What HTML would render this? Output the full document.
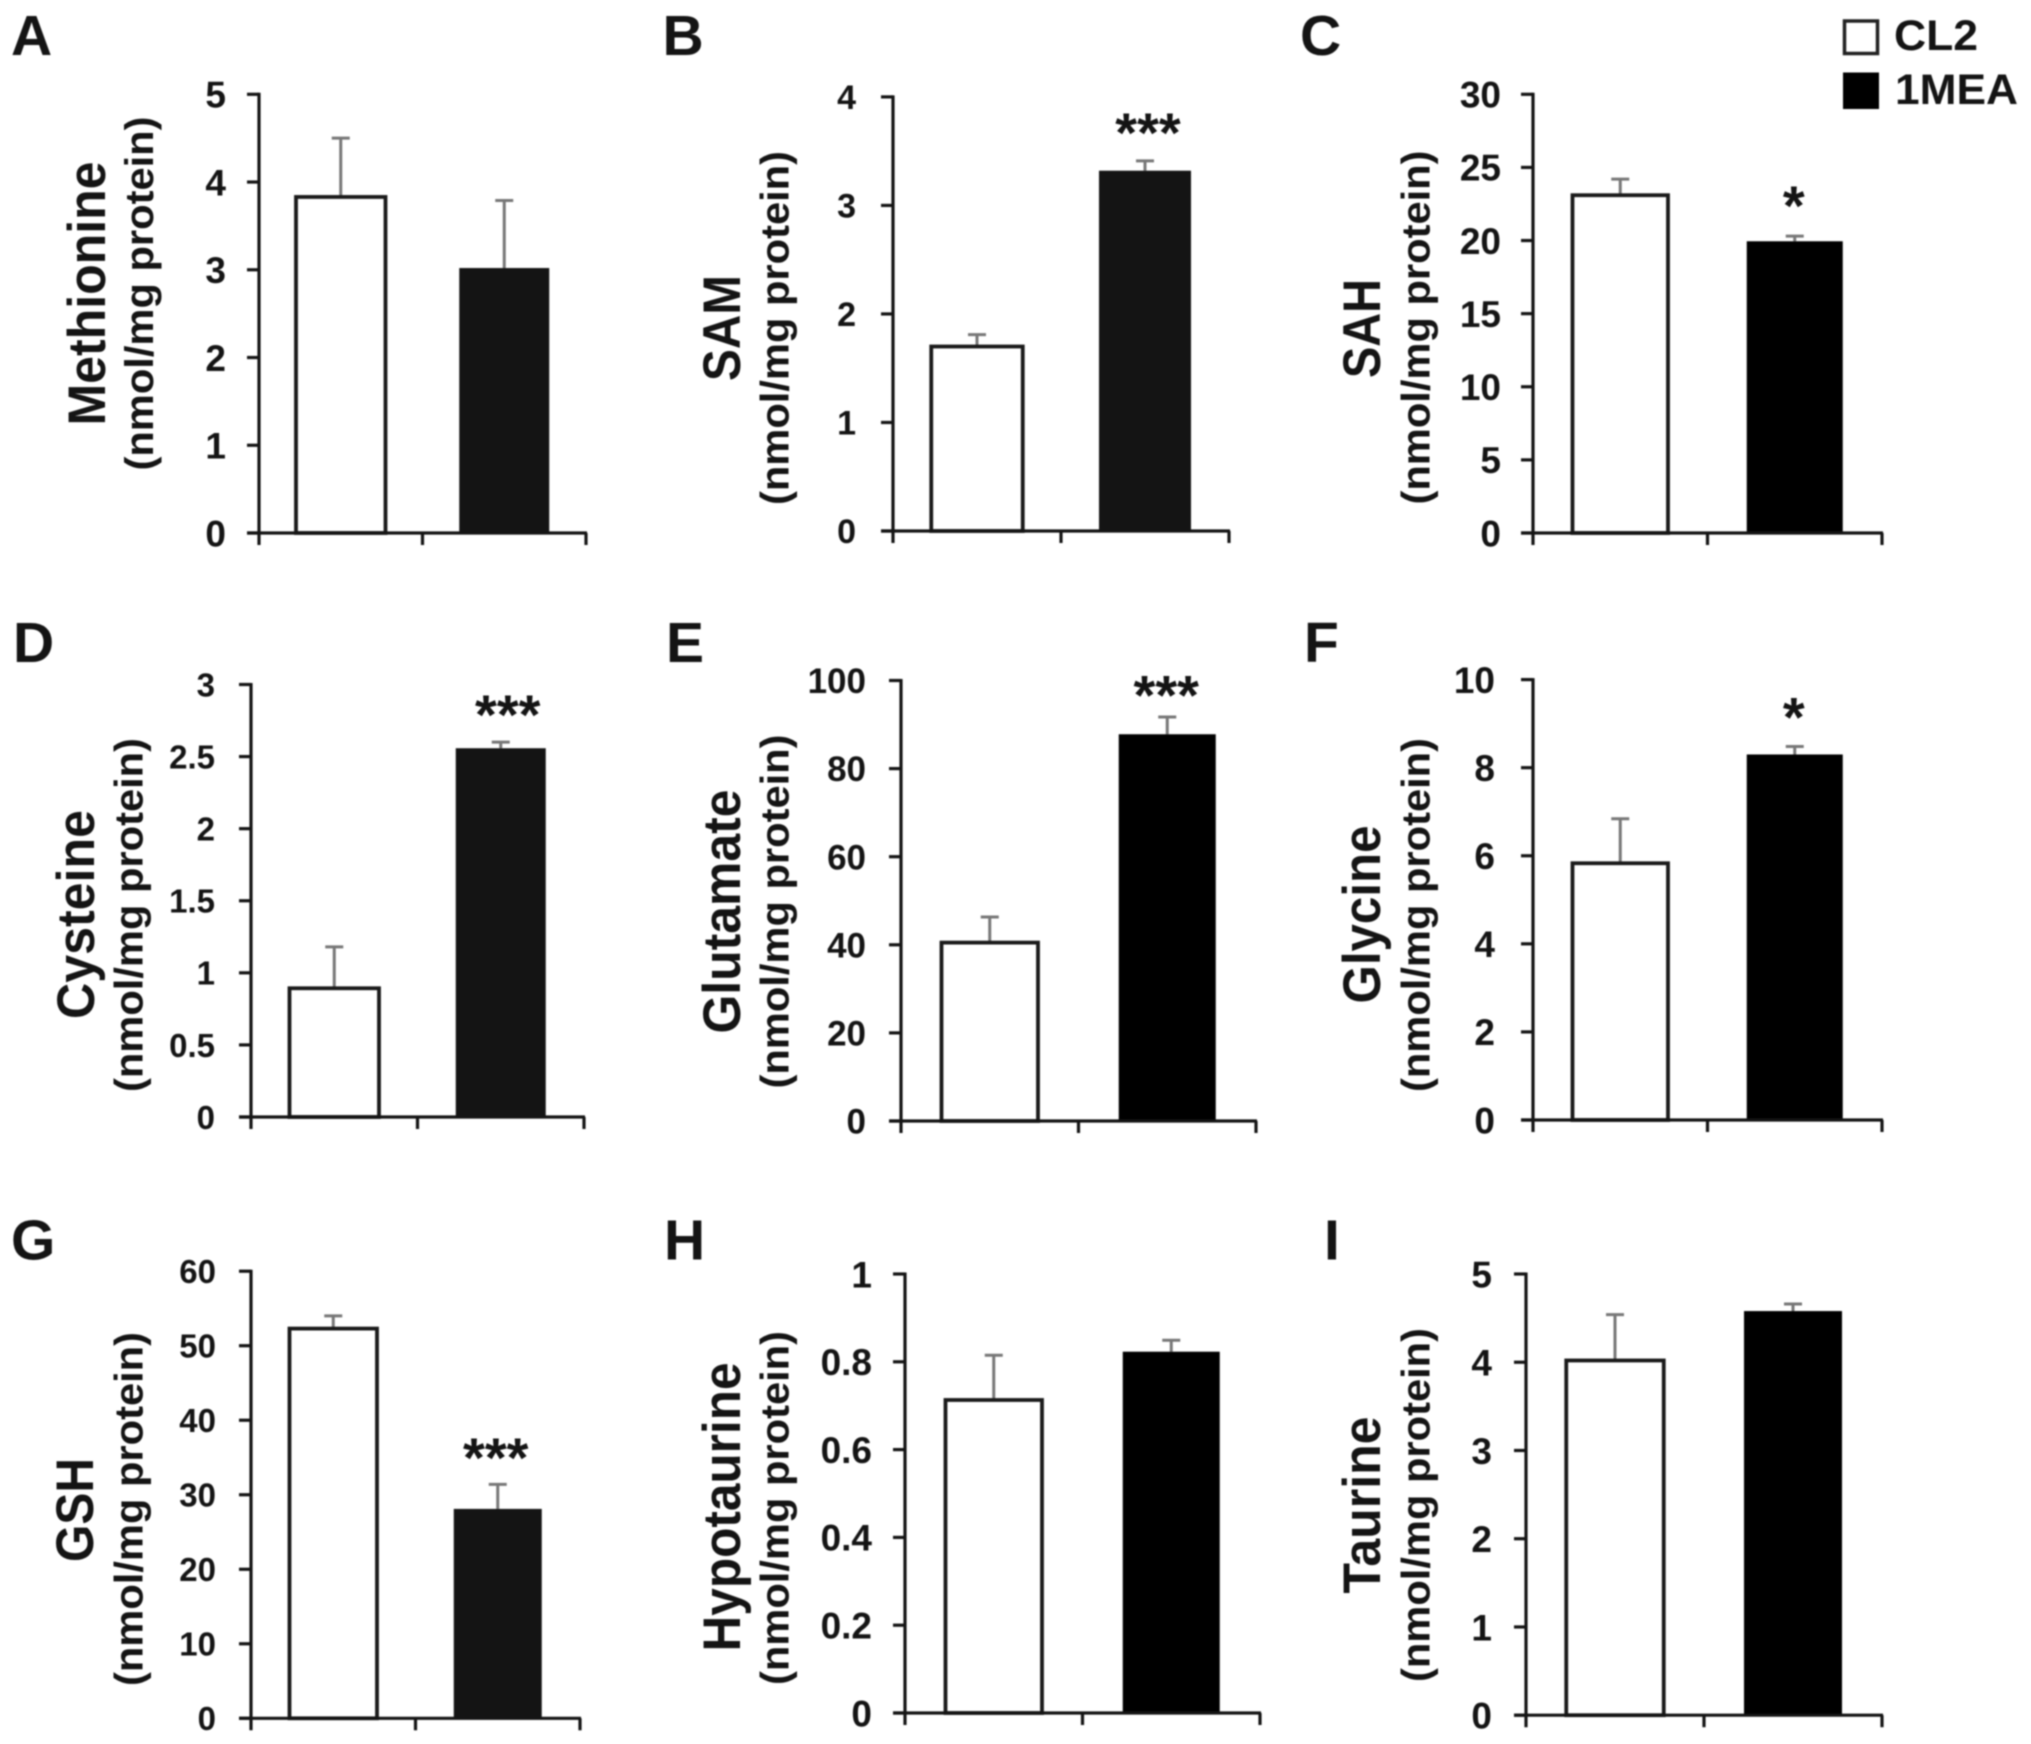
<!DOCTYPE html>
<html lang="en">
<head>
<meta charset="utf-8">
<title>Metabolite levels in CL2 and 1MEA cells</title>
<style>
  html, body { margin: 0; padding: 0; background: #ffffff; }
  body { width: 2031px; height: 1744px; overflow: hidden; }
  svg { display: block; filter: blur(0.7px); }
  text { font-family: "Liberation Sans", sans-serif; font-weight: bold; fill: #141414; }
</style>
</head>
<body>
<svg id="figure" xmlns="http://www.w3.org/2000/svg" width="2031" height="1744" viewBox="0 0 2031 1744">
  <rect width="2031" height="1744" fill="#ffffff"></rect>
  <g>
    <rect x="1844.5" y="21" width="33" height="32.5" fill="#ffffff" stroke="#222222" stroke-width="3.5"></rect>
    <text x="1894" y="50" font-size="43" textLength="84" lengthAdjust="spacingAndGlyphs">CL2</text>
    <rect x="1843" y="72.5" width="36" height="36.5" fill="#000000"></rect>
    <text x="1895" y="104" font-size="43" textLength="123" lengthAdjust="spacingAndGlyphs">1MEA</text>
  </g>
</svg>
<script>
// ---- chart data ----
const panelLetters = ['A', 'B', 'C', 'D', 'E', 'F', 'G', 'H', 'I'];
const metabolites = ['Methionine', 'SAM', 'SAH', 'Cysteine', 'Glutamate', 'Glycine', 'GSH', 'Hypotaurine', 'Taurine'];
const categories = ['CL2', '1MEA'];
const unitLabel = '(nmol/mg protein)';
const cl2Values = [3.83, 1.70, 23.1, 0.893, 40.5, 5.83, 52.3, 0.713, 4.02];
const mea1Values = [3.02, 3.32, 19.95, 2.558, 87.8, 8.30, 28.1, 0.823, 4.58];
const cl2Errors = [0.67, 0.11, 1.1, 0.287, 5.8, 1.01, 1.7, 0.102, 0.52];
const mea1Errors = [0.77, 0.09, 0.35, 0.042, 3.9, 0.18, 3.3, 0.026, 0.08];
const significance = ['', '***', '*', '***', '***', '*', '***', '', ''];
const yMaxValues = [5, 4, 30, 3, 100, 10, 60, 1, 5];
const tickLabels = [
  ['0', '1', '2', '3', '4', '5'],
  ['0', '1', '2', '3', '4'],
  ['0', '5', '10', '15', '20', '25', '30'],
  ['0', '0.5', '1', '1.5', '2', '2.5', '3'],
  ['0', '20', '40', '60', '80', '100'],
  ['0', '2', '4', '6', '8', '10'],
  ['0', '10', '20', '30', '40', '50', '60'],
  ['0', '0.2', '0.4', '0.6', '0.8', '1'],
  ['0', '1', '2', '3', '4', '5']
];

// ---- layout of each panel's plot frame and labels (not data) ----
const layout = [
  { left: 259, right: 586, top: 94.3, bottom: 533, barW: 90, letterX: 11, letterY: 55, labelRight: 226, tickSize: 37, fill: '#141414', titleX: 105, titleMid: 293.5, titleLen: 264, subX: 153, subMid: 293.5, starGap: 35, starDx: 0 },
  { left: 893, right: 1229, top: 96.9, bottom: 531, barW: 92, letterX: 662.5, letterY: 55, labelRight: 856, tickSize: 34, fill: '#141414', titleX: 740, titleMid: 328, titleLen: 106, subX: 788.5, subMid: 328, starGap: 40.5, starDx: 3 },
  { left: 1533, right: 1882, top: 94.3, bottom: 533, barW: 96, letterX: 1300, letterY: 55, labelRight: 1501, tickSize: 37, fill: '#000000', titleX: 1380, titleMid: 328.5, titleLen: 99, subX: 1429.5, subMid: 327.5, starGap: 42.5, starDx: -1 },
  { left: 251, right: 584, top: 684.5, bottom: 1117, barW: 90, letterX: 13, letterY: 662, labelRight: 215, tickSize: 33, fill: '#141414', titleX: 94, titleMid: 914.5, titleLen: 209, subX: 142.5, subMid: 915, starGap: 39.5, starDx: 7 },
  { left: 901, right: 1256, top: 680.5, bottom: 1121, barW: 97, letterX: 666, letterY: 662, labelRight: 866, tickSize: 35, fill: '#000000', titleX: 740, titleMid: 911.5, titleLen: 244, subX: 788.5, subMid: 911.5, starGap: 34, starDx: -1 },
  { left: 1533, right: 1882, top: 679.6, bottom: 1120, barW: 96, letterX: 1304, letterY: 662, labelRight: 1495, tickSize: 37, fill: '#000000', titleX: 1380, titleMid: 914.5, titleLen: 178, subX: 1429.5, subMid: 915, starGap: 41.5, starDx: -1 },
  { left: 251, right: 580, top: 1271.2, bottom: 1718.3, barW: 88, letterX: 11, letterY: 1259.5, labelRight: 216, tickSize: 33, fill: '#141414', titleX: 93, titleMid: 1510, titleLen: 104, subX: 142.5, subMid: 1509, starGap: 38.5, starDx: -2 },
  { left: 905, right: 1260, top: 1274, bottom: 1713, barW: 97, letterX: 664, letterY: 1259.5, labelRight: 872, tickSize: 37, fill: '#000000', titleX: 740, titleMid: 1507, titleLen: 289, subX: 788.5, subMid: 1508, starGap: 34, starDx: 0 },
  { left: 1526, right: 1882, top: 1274, bottom: 1715.2, barW: 98, letterX: 1324, letterY: 1259.5, labelRight: 1492, tickSize: 37, fill: '#000000', titleX: 1380, titleMid: 1505, titleLen: 177, subX: 1429.5, subMid: 1505, starGap: 34, starDx: 0 }
];

const AXIS_COLOR = '#141414';
const SVG_NS = 'http://www.w3.org/2000/svg';
const figure = document.getElementById('figure');

function makeEl(parent, tag, attrs, textValue) {
  const el = document.createElementNS(SVG_NS, tag);
  Object.keys(attrs).forEach(function (k) { el.setAttribute(k, attrs[k]); });
  if (textValue !== undefined) el.textContent = textValue;
  parent.appendChild(el);
  return el;
}

function yScale(i, value) {
  const f = layout[i];
  return f.bottom - (value / yMaxValues[i]) * (f.bottom - f.top);
}

function xBandEdge(i, k) {
  const f = layout[i];
  return f.left + (k / categories.length) * (f.right - f.left);
}

function xBandCenter(i, k) {
  return (xBandEdge(i, k) + xBandEdge(i, k + 1)) / 2;
}

function drawLine(parent, x1, y1, x2, y2, color, width) {
  return makeEl(parent, 'line', { x1: x1, y1: y1, x2: x2, y2: y2, stroke: color, 'stroke-width': width });
}

function drawBar(group, i, k, value, error) {
  const f = layout[i];
  const cx = xBandCenter(i, k);
  const top = yScale(i, value);
  const errTop = yScale(i, value + error);
  const isControl = k === 0;
  const key = categories[k].toLowerCase();

  const stem = drawLine(group, cx, top, cx, errTop, '#777777', 3);
  
  
  const cap = drawLine(group, cx - 9, errTop, cx + 9, errTop, '#777777', 3);
  
  

  const attrs = isControl
    ? { x: cx - (f.barW - 0.5) / 2, y: top, width: f.barW - 0.5, height: f.bottom - top, fill: '#ffffff', stroke: '#1a1a1a', 'stroke-width': 3.8 }
    : { x: cx - f.barW / 2, y: top, width: f.barW, height: f.bottom - top, fill: f.fill };
  const bar = makeEl(group, 'rect', attrs);
  
  
}

function drawPanel(i) {
  const f = layout[i];
  const name = metabolites[i].toLowerCase();

  const group = makeEl(figure, 'g', {});
  
  

  const letter = makeEl(group, 'text', { x: f.letterX, y: f.letterY, 'font-size': 57 }, panelLetters[i]);
  
  

  const title = makeEl(group, 'text', {
    transform: 'translate(' + f.titleX + ',' + f.titleMid + ') rotate(-90)',
    'text-anchor': 'middle', 'font-size': 53, textLength: f.titleLen, lengthAdjust: 'spacingAndGlyphs'
  }, metabolites[i]);
  
  

  const unit = makeEl(group, 'text', {
    transform: 'translate(' + f.subX + ',' + f.subMid + ') rotate(-90)',
    'text-anchor': 'middle', 'font-size': 40, textLength: 354, lengthAdjust: 'spacingAndGlyphs'
  }, unitLabel);
  
  

  drawBar(group, i, 0, cl2Values[i], cl2Errors[i]);
  drawBar(group, i, 1, mea1Values[i], mea1Errors[i]);

  const yAxis = drawLine(group, f.left, f.top - 1.5, f.left, f.bottom + 12, AXIS_COLOR, 3.2);
  
  
  const xAxis = drawLine(group, f.left - 12, f.bottom, f.right + 1, f.bottom, AXIS_COLOR, 3.2);
  
  

  tickLabels[i].forEach(function (label) {
    const y = yScale(i, parseFloat(label));
    const tick = drawLine(group, f.left - 12, y, f.left, y, AXIS_COLOR, 3.2);
    
    
    const tickText = makeEl(group, 'text', {
      x: f.labelRight, y: y + f.tickSize * 0.36, 'text-anchor': 'end', 'font-size': f.tickSize
    }, label);
    
    
  });

  for (let k = 1; k <= categories.length; k++) {
    const x = xBandEdge(i, k);
    const xTick = drawLine(group, x, f.bottom, x, f.bottom + 12, AXIS_COLOR, 3.2);
    
    
  }

  if (significance[i]) {
    const starCenterY = yScale(i, mea1Values[i] + mea1Errors[i]) - f.starGap;
    const stars = makeEl(group, 'text', {
      x: xBandCenter(i, 1) + f.starDx, y: starCenterY + 56 * 0.56,
      'text-anchor': 'middle', 'font-size': 56
    }, significance[i]);
    
    
  }
}

metabolites.forEach(function (_, i) { drawPanel(i); });
</script>
</body>
</html>
